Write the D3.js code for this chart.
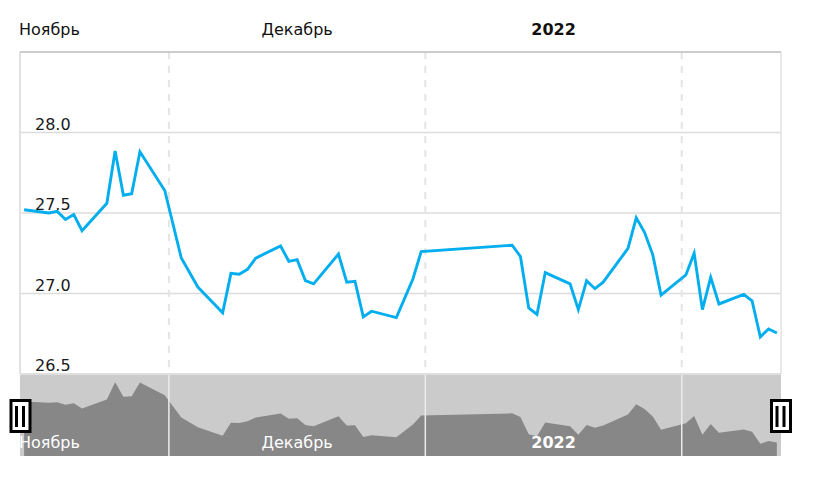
<!DOCTYPE html>
<html>
<head>
<meta charset="utf-8">
<script src="https://d3js.org/d3.v7.min.js"></script>
<style>
    body { margin: 0; background: #fff; }
    text { font-family: "DejaVu Sans", Verdana, sans-serif; font-size: 16px; }
</style>
</head>
<body>
<div id="chart"></div>
<script>
// trading days (rate published Tue..Sat) and rate values
var dates = ["2021-11-13","2021-11-16","2021-11-17","2021-11-18","2021-11-19","2021-11-20",
    "2021-11-23","2021-11-24","2021-11-25","2021-11-26","2021-11-27","2021-11-30",
    "2021-12-02","2021-12-04","2021-12-07","2021-12-08","2021-12-09","2021-12-10","2021-12-11",
    "2021-12-14","2021-12-15","2021-12-16","2021-12-17","2021-12-18",
    "2021-12-21","2021-12-22","2021-12-23","2021-12-24","2021-12-25",
    "2021-12-28","2021-12-30","2021-12-31",
    "2022-01-11","2022-01-12","2022-01-13","2022-01-14","2022-01-15",
    "2022-01-18","2022-01-19","2022-01-20","2022-01-21","2022-01-22",
    "2022-01-25","2022-01-26","2022-01-27","2022-01-28","2022-01-29",
    "2022-02-01","2022-02-02","2022-02-03","2022-02-04","2022-02-05",
    "2022-02-08","2022-02-09","2022-02-10","2022-02-11","2022-02-12"];
var rates = [27.52, 27.50, 27.51, 27.46, 27.49, 27.39,
    27.56, 27.885, 27.61, 27.62, 27.88, 27.64,
    27.22, 27.04, 26.88, 27.125, 27.12, 27.15, 27.22,
    27.295, 27.20, 27.21, 27.08, 27.06,
    27.245, 27.07, 27.075, 26.855, 26.89,
    26.85, 27.09, 27.26,
    27.30, 27.23, 26.91, 26.87, 27.13,
    27.06, 26.90, 27.08, 27.03, 27.07,
    27.28, 27.47, 27.38, 27.24, 26.99,
    27.115, 27.25, 26.90, 27.10, 26.935,
    26.995, 26.955, 26.73, 26.78, 26.755];

var yTicks = [26.5, 27.0, 27.5, 28.0];
var monthStarts = ["2021-11-01", "2021-12-01", "2022-01-01", "2022-02-01"];
var monthLabels = ["Ноябрь", "Декабрь", "2022"];
var boldLabels = [false, false, true];

var width = 819, height = 478;
var plot = { left: 20, right: 781, top: 52, bottom: 374 };
var scroller = { top: 375, bottom: 456 };

var parse = d3.timeParse("%Y-%m-%d");

var data = dates.map(function(d, i) {
    return { date: d3.timeHour.offset(parse(d), 12), value: rates[i] };
});
var months = monthStarts.map(parse);

var x = d3.scaleTime()
    .domain([parse("2021-11-13"), parse("2022-02-13")])
    .range([plot.left, plot.right]);

var y = d3.scaleLinear()
    .domain([26.5, 28.5])
    .range([plot.bottom, plot.top]);

var ys = d3.scaleLinear()
    .domain([26.5, 28.0])
    .range([scroller.bottom, scroller.top + 1]);

var svg = d3.select("#chart").append("svg")
    .attr("width", width)
    .attr("height", height);

// horizontal grid
svg.selectAll(".hgrid")
    .data(yTicks.slice(1))
    .enter().append("line")
    .attr("x1", plot.left).attr("x2", plot.right)
    .attr("y1", function(d) { return y(d); })
    .attr("y2", function(d) { return y(d); })
    .style("stroke", "#dcdcdc")
    .style("stroke-width", 1.5);

// vertical dashed grid at month starts
var innerMonths = months.filter(function(m) { return x(m) > plot.left && x(m) < plot.right; });

svg.selectAll(".vgrid")
    .data(innerMonths)
    .enter().append("line")
    .attr("x1", function(d) { return x(d); })
    .attr("x2", function(d) { return x(d); })
    .attr("y1", plot.top).attr("y2", plot.bottom)
    .style("stroke", "#e4e4e4")
    .style("stroke-width", 2)
    .style("stroke-dasharray", "7,7");

// plot frame
svg.append("line")
    .attr("x1", plot.left).attr("x2", plot.left)
    .attr("y1", plot.top).attr("y2", plot.bottom)
    .style("stroke", "#e2e2e2").style("stroke-width", 2);
svg.append("line")
    .attr("x1", plot.right).attr("x2", plot.right)
    .attr("y1", plot.top).attr("y2", plot.bottom)
    .style("stroke", "#e2e2e2").style("stroke-width", 1.5);
svg.append("line")
    .attr("x1", plot.left).attr("x2", plot.right)
    .attr("y1", plot.top).attr("y2", plot.top)
    .style("stroke", "#cccccc").style("stroke-width", 2);

// y labels sit inside the plot, above their grid line
svg.selectAll(".yLabel")
    .data(yTicks)
    .enter().append("text")
    .attr("x", 35)
    .attr("y", function(d) { return y(d) - 3; })
    .style("fill", "#1a1a1a")
    .text(function(d) { return d3.format(".1f")(d); });

// month labels, centred in their month, kept inside the plot
function monthLabelX(i, w) {
    var cx = (x(months[i]) + x(months[i + 1])) / 2;
    return Math.max(plot.left - 1, cx - w / 2);
}

function drawMonthLabels(baseline, color) {
    monthLabels.forEach(function(label, i) {
        var t = svg.append("text")
            .attr("y", baseline)
            .style("fill", color)
            .style("font-weight", boldLabels[i] ? "bold" : "normal")
            .text(label);
        var w = t.node().getComputedTextLength();
        t.attr("x", monthLabelX(i, w));
    });
}

drawMonthLabels(35, "#111");

// the rate line
var line = d3.line()
    .x(function(d) { return x(d.date); })
    .y(function(d) { return y(d.value); });

svg.append("path")
    .datum(data)
    .attr("d", line)
    .style("fill", "none")
    .style("stroke", "#03aeef")
    .style("stroke-width", 2.9);

// scroller
svg.append("rect")
    .attr("x", plot.left).attr("y", scroller.top)
    .attr("width", plot.right - plot.left)
    .attr("height", scroller.bottom - scroller.top)
    .style("fill", "#cbcbcb");

var area = d3.area()
    .x(function(d) { return x(d.date); })
    .y0(scroller.bottom)
    .y1(function(d) { return ys(d.value); });

svg.append("path")
    .datum(data)
    .attr("d", area)
    .style("fill", "#878787");

svg.selectAll(".sgrid")
    .data(innerMonths)
    .enter().append("line")
    .attr("x1", function(d) { return x(d); })
    .attr("x2", function(d) { return x(d); })
    .attr("y1", scroller.top).attr("y2", scroller.bottom)
    .style("stroke", "#ececec")
    .style("stroke-width", 1.5);

svg.append("line")
    .attr("x1", plot.left).attr("x2", plot.right)
    .attr("y1", plot.bottom).attr("y2", plot.bottom)
    .style("stroke", "#d4d4d4").style("stroke-width", 1.5);

drawMonthLabels(448, "#fff");

// scroller thumbs
var handles = svg.selectAll(".handle")
    .data([plot.left + 0.5, plot.right])
    .enter().append("g")
    .attr("class", "handle")
    .attr("transform", function(d) { return "translate(" + d + ",0)"; });

handles.append("rect")
    .attr("x", -9.5).attr("y", 400.5)
    .attr("width", 19).attr("height", 31)
    .style("fill", "#fff")
    .style("stroke", "#000")
    .style("stroke-width", 3);

handles.selectAll(".bar")
    .data([-5.5, 1.5])
    .enter().append("rect")
    .attr("x", function(d) { return d; })
    .attr("y", 406)
    .attr("width", 3)
    .attr("height", 21)
    .style("fill", "#000");
</script>
</body>
</html>
